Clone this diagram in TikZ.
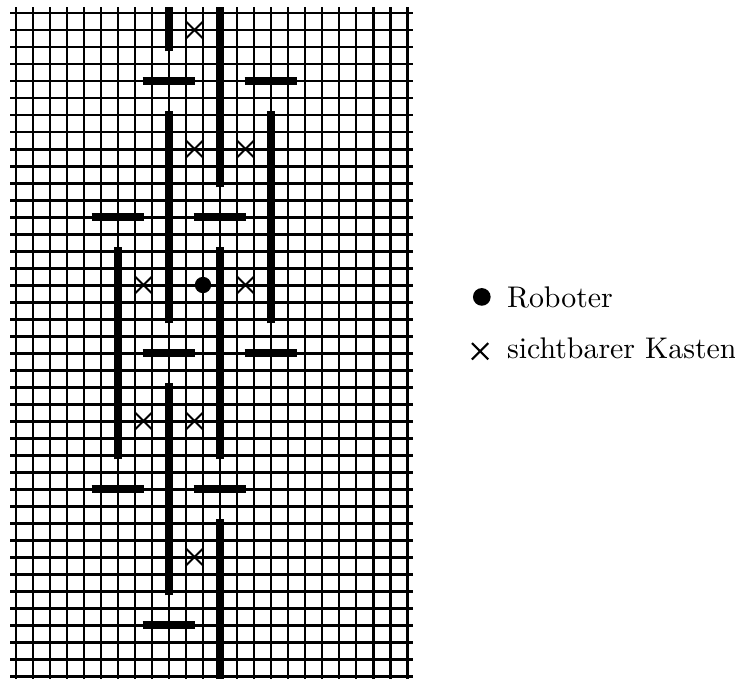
\documentclass[tikz,border=0pt]{standalone}
\usepackage{tikz}

\tikzset{
  gitter/.style={line width=1pt},
  wand/.style={line width=2.6pt},
  kasten/.pic={\draw[line width=0.7pt] (-0.48,-0.48)--(0.48,0.48) (-0.48,0.48)--(0.48,-0.48);}
}

\begin{document}
\begin{tikzpicture}[x=2mm,y=2mm]
    \useasboundingbox (-0.941,-0.118) rectangle (42.294,39.765);

    % Gitter
    \foreach \i in {0,...,23} \draw[gitter] (\i,-0.35)--(\i,39.35);
    \foreach \j in {0,...,39} \draw[gitter] (-0.35,\j)--(23.35,\j);

    % senkrechte Waende
    \draw[wand] (9,36.75)--(9,39.35);
    \draw[wand] (12,28.75)--(12,39.35);
    \draw[wand] (9,20.75)--(9,33.25);
    \draw[wand] (15,20.75)--(15,33.25);
    \draw[wand] (6,12.75)--(6,25.25);
    \draw[wand] (12,12.75)--(12,25.25);
    \draw[wand] (9,4.75)--(9,17.25);
    \draw[wand] (12,-0.35)--(12,9.25);

    % waagerechte Waende
    \foreach \x/\y in {9/35,15/35,6/27,12/27,9/19,15/19,6/11,12/11,9/3}
      \draw[wand] (\x-1.55,\y)--(\x+1.55,\y);

    % sichtbare Kaesten
    \foreach \x/\y in {10.5/38,10.5/31,13.5/31,7.5/23,13.5/23,7.5/15,10.5/15,10.5/7}
      \pic at (\x,\y) {kasten};

    % Roboter
    \fill (11,23) circle (0.48);

    % Legende
    \fill (27.4,22.3) circle (0.52);
    \node[anchor=base west,inner sep=0pt] (roboter) at (28.85,21.7) {Roboter};
    \pic at (27.3,19.1) {kasten};
    \node[anchor=base west,inner sep=0pt] (kasten) at (28.85,18.65) {sichtbarer Kasten};

\end{tikzpicture}
\end{document}
